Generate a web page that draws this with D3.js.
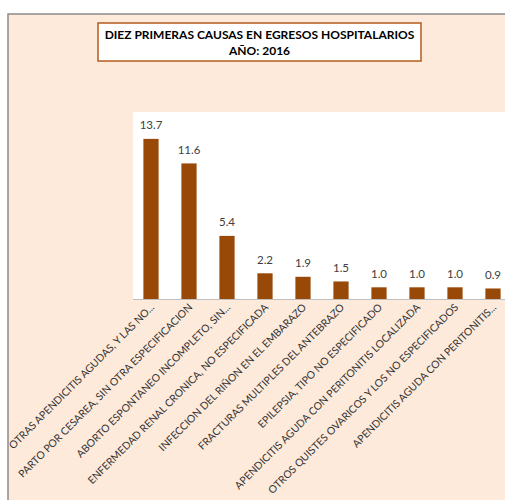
<!DOCTYPE html>
<meta charset="utf-8">
<script src="https://d3js.org/d3.v7.min.js"></script>
<style>
  body { margin: 0; background: #fff; }
  text { font-family: Lato, "Open Sans", sans-serif; }
</style>
<body>
<svg id="chart" width="505" height="500"></svg>
<script>

// data
var causas = [
  "OTRAS APENDICITIS AGUDAS, Y LAS NO...",
  "PARTO POR CESAREA, SIN OTRA ESPECIFICACION",
  "ABORTO ESPONTANEO INCOMPLETO, SIN...",
  "ENFERMEDAD RENAL CRONICA, NO ESPECIFICADA",
  "INFECCION DEL RIÑON EN EL EMBARAZO",
  "FRACTURAS MULTIPLES DEL ANTEBRAZO",
  "EPILEPSIA, TIPO NO ESPECIFICADO",
  "APENDICITIS AGUDA CON PERITONITIS LOCALIZADA",
  "OTROS QUISTES OVARICOS Y LOS NO ESPECIFICADOS",
  "APENDICITIS AGUDA CON PERITONITIS..."
];
var porcentajes = [13.7, 11.6, 5.4, 2.2, 1.9, 1.5, 1.0, 1.0, 1.0, 0.9];
var titulo = ["DIEZ PRIMERAS CAUSAS EN EGRESOS HOSPITALARIOS", "AÑO: 2016"];

var svg = d3.select("#chart");

// outer chart area
svg.append("rect")
  .attr("x", 8).attr("y", 14)
  .attr("width", 520).attr("height", 520)
  .attr("fill", "#fdeadb")
  .attr("stroke", "#8a8a8a")
  .attr("stroke-width", 1.5);

// plot area
var plot = { left: 133, top: 112, bottom: 299 };

svg.append("rect")
  .attr("x", plot.left).attr("y", plot.top)
  .attr("width", 505 - plot.left).attr("height", plot.bottom - plot.top)
  .attr("fill", "#ffffff");

var x = d3.scaleBand()
  .domain(causas)
  .range([132, 512])
  .paddingInner(0.6)
  .paddingOuter(0.3);

var y = d3.scaleLinear()
  .domain([0, 16])
  .range([plot.bottom, plot.top]);

// bars
svg.append("g")
  .selectAll("rect")
  .data(porcentajes)
  .enter()
  .append("rect")
    .attr("x", function(d, i) { return x(causas[i]); })
    .attr("y", function(d) { return y(d); })
    .attr("width", x.bandwidth())
    .attr("height", function(d) { return y(0) - y(d); })
    .attr("fill", "#984807");

// value labels
svg.append("g")
  .selectAll("text")
  .data(porcentajes)
  .enter()
  .append("text")
    .attr("x", function(d, i) { return x(causas[i]) + x.bandwidth() / 2; })
    .attr("y", function(d) { return y(d) - 9.5; })
    .attr("text-anchor", "middle")
    .attr("font-size", "11.5px")
    .attr("fill", "#404040")
    .text(function(d) { return d.toFixed(1); });

// x axis line
svg.append("line")
  .attr("x1", plot.left).attr("x2", 505)
  .attr("y1", plot.bottom + 0.5).attr("y2", plot.bottom + 0.5)
  .attr("stroke", "#bfbfbf");

// category labels, rotated
svg.append("g")
  .selectAll("text")
  .data(causas)
  .enter()
  .append("text")
    .attr("transform", function(d) {
      var cx = x(d) + x.bandwidth() / 2 + 4;
      return "translate(" + cx + "," + (plot.bottom + 9) + ") rotate(-45)";
    })
    .attr("text-anchor", "end")
    .attr("font-size", "10.4px")
    .attr("fill", "#333")
    .text(function(d) { return d; });

// title box
svg.append("rect")
  .attr("x", 98).attr("y", 23)
  .attr("width", 323).attr("height", 38)
  .attr("fill", "#ffffff")
  .attr("stroke", "#b35c1e")
  .attr("stroke-width", 1.5);

svg.append("g")
  .selectAll("text")
  .data(titulo)
  .enter()
  .append("text")
    .attr("x", 259.5)
    .attr("y", function(d, i) { return 39 + i * 15.5; })
    .attr("text-anchor", "middle")
    .attr("font-size", "12px")
    .attr("font-weight", "bold")
    .attr("fill", "#000")
    .text(function(d) { return d; });

</script>
</body>
